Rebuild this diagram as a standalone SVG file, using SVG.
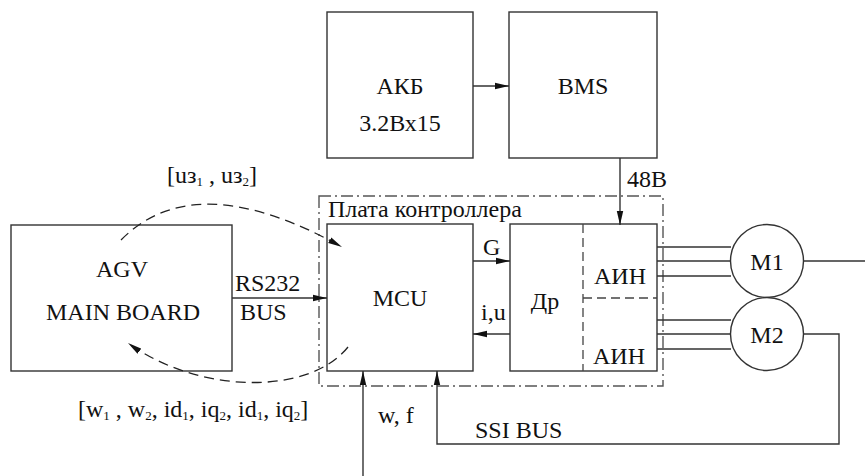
<svg xmlns="http://www.w3.org/2000/svg" width="865" height="476" viewBox="0 0 865 476">
<defs>
<marker id="arr" markerWidth="14" markerHeight="8" refX="14" refY="4" orient="auto" markerUnits="userSpaceOnUse">
<path d="M0,0.8 L14,4 L0,7.2 Z" fill="#111"/>
</marker>
</defs>
<style>
.box{fill:#fff;stroke:#333;stroke-width:1.4}
.ln{fill:none;stroke:#333;stroke-width:1.4}
.dsh{fill:none;stroke:#222;stroke-width:1.3;stroke-dasharray:10,6}
.frame{fill:none;stroke:#555;stroke-width:1.4;stroke-dasharray:12,4,2,4}
.div{fill:none;stroke:#444;stroke-width:1.3;stroke-dasharray:9,5}
text{font-family:"Liberation Serif";font-size:24px;fill:#111}
.c{text-anchor:middle}
.sub{font-size:13px}
</style>
<rect width="865" height="476" fill="#fff"/>
<g id="frame">
<rect class="frame" x="319" y="196" width="344" height="190"/>
<text x="328" y="217">Плата контроллера</text>
</g>
<g id="akb"><rect class="box" x="327" y="12" width="146" height="146"/><text class="c" x="400" y="94">АКБ</text><text class="c" x="400" y="131">3.2Вх15</text></g>
<g id="bms"><rect class="box" x="509" y="12" width="148" height="146"/><text class="c" x="583" y="94">BMS</text></g>
<g id="agv"><rect class="box" x="11" y="225" width="221" height="146"/><text class="c" x="122" y="277">AGV</text><text class="c" x="123" y="320">MAIN BOARD</text></g>
<g id="mcu"><rect class="box" x="327" y="224" width="146" height="147"/><text class="c" x="400" y="306">MCU</text></g>
<g id="dr"><rect class="box" x="510" y="224" width="147" height="147"/><text class="c" x="545" y="309">Др</text>
<path class="div" d="M583,224 V371 M583,298 H657"/>
<text class="c" x="620" y="284">АИН</text><text class="c" x="619" y="364">АИН</text></g>
<g id="m1"><circle class="box" cx="767" cy="261" r="36.5"/><text class="c" x="767" y="270">M1</text></g>
<g id="m2"><circle class="box" cx="767" cy="334" r="36.5"/><text class="c" x="767" y="343">M2</text></g>
<g id="connectors">
<line class="ln" x1="473" y1="86" x2="509" y2="86" marker-end="url(#arr)"/>
<line class="ln" x1="620" y1="158" x2="620" y2="225" marker-end="url(#arr)"/>
<line class="ln" x1="232" y1="298" x2="327" y2="298" marker-end="url(#arr)"/>
<line class="ln" x1="473" y1="261" x2="510" y2="261" marker-end="url(#arr)"/>
<line class="ln" x1="510" y1="334" x2="473" y2="334" marker-end="url(#arr)"/>
<path class="ln" d="M657,247 H731 M657,261 H730.5 M657,276 H731 M657,320 H731 M657,334 H730.5 M657,349 H731 M803.5,261 H865"/>
<path class="ln" d="M803.5,334 H839 V444 H437 V371" marker-end="url(#arr)"/>
<line class="ln" x1="363" y1="476" x2="363" y2="371" marker-end="url(#arr)"/>
<path class="dsh" d="M121,240 Q195,165 342,247" marker-end="url(#arr)"/>
<path class="dsh" d="M348,347 C310,395 200,395 128,343" marker-end="url(#arr)"/>
</g>
<g id="labels">
<text x="627" y="187">48В</text>
<text x="235" y="291">RS232</text>
<text x="240" y="320">BUS</text>
<text x="483" y="255">G</text>
<text x="481" y="320">i,u</text>
<text x="378" y="423">w, f</text>
<text x="475" y="438">SSI BUS</text>
<text x="167" y="183">[uз<tspan class="sub" dy="3">1</tspan><tspan dy="-3"> , uз</tspan><tspan class="sub" dy="3">2</tspan><tspan dy="-3">]</tspan></text>
<text x="78" y="417">[w<tspan class="sub" dy="3">1</tspan><tspan dy="-3"> , w</tspan><tspan class="sub" dy="3">2</tspan><tspan dy="-3">, id</tspan><tspan class="sub" dy="3">1</tspan><tspan dy="-3">, iq</tspan><tspan class="sub" dy="3">2</tspan><tspan dy="-3">, id</tspan><tspan class="sub" dy="3">1</tspan><tspan dy="-3">, iq</tspan><tspan class="sub" dy="3">2</tspan><tspan dy="-3">]</tspan></text>
</g>
</svg>
